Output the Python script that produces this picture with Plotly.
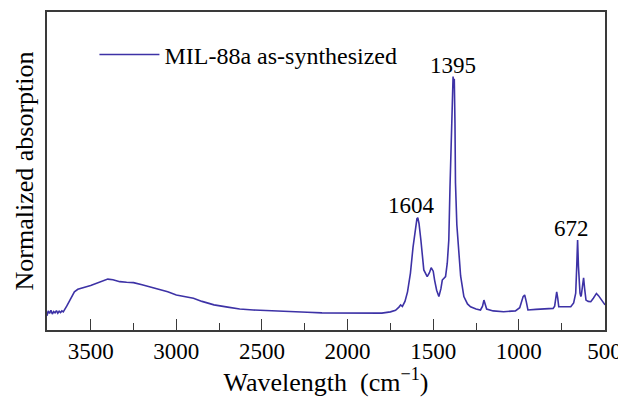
import plotly.graph_objects as go

# ---- data ----
wavenumber = [3755, 3748, 3740, 3732, 3724, 3716, 3708, 3700, 3692, 3684, 3676, 3668, 3660,
              3650, 3640, 3625, 3610, 3595, 3575, 3550, 3520, 3500, 3460, 3430, 3400, 3370,
              3330, 3290, 3250, 3200, 3150, 3110, 3050, 3000, 2950, 2900, 2850, 2780, 2700,
              2630, 2550, 2430, 2300, 2235, 2150, 2040, 1900, 1800, 1750, 1720, 1700, 1690,
              1680, 1665, 1650, 1633, 1618, 1604, 1595, 1590, 1583, 1572, 1555, 1535, 1522,
              1512, 1500, 1492, 1480, 1467, 1455, 1447, 1435, 1428, 1418, 1409, 1402, 1395,
              1389, 1384, 1380, 1377, 1373, 1370, 1362, 1350, 1340, 1321, 1300, 1282, 1250,
              1224, 1212, 1204, 1196, 1188, 1150, 1089, 1020, 995, 975, 966, 957, 947, 900,
              855, 800, 791, 785, 779, 773, 767, 730, 697, 680, 668, 662, 657, 652, 647, 643,
              638, 635, 628, 622, 616, 608, 595, 580, 565, 547, 535, 518, 505, 497]
absorption = [0.045, 0.060, 0.052, 0.062, 0.050, 0.058, 0.054, 0.061, 0.053, 0.059, 0.055, 0.060, 0.057,
              0.065, 0.075, 0.090, 0.107, 0.120, 0.128, 0.133, 0.137, 0.140, 0.148, 0.156, 0.160, 0.158,
              0.152, 0.150, 0.149, 0.142, 0.135, 0.129, 0.120, 0.110, 0.105, 0.100, 0.090, 0.079, 0.072,
              0.066, 0.063, 0.061, 0.059, 0.056, 0.054, 0.053, 0.052, 0.053, 0.057, 0.062, 0.072, 0.079,
              0.074, 0.090, 0.120, 0.179, 0.260, 0.325, 0.350, 0.353, 0.335, 0.283, 0.189, 0.168, 0.180,
              0.196, 0.185, 0.157, 0.125, 0.105, 0.130, 0.157, 0.165, 0.168, 0.210, 0.283, 0.450, 0.597,
              0.720, 0.797, 0.760, 0.790, 0.650, 0.462, 0.330, 0.230, 0.170, 0.105, 0.082, 0.073, 0.066,
              0.063, 0.075, 0.094, 0.075, 0.066, 0.060, 0.0575, 0.060, 0.070, 0.105, 0.110, 0.090, 0.063, 0.065,
              0.066, 0.068, 0.075, 0.105, 0.120, 0.100, 0.073, 0.073, 0.073, 0.085, 0.116, 0.200, 0.283, 0.200, 0.125, 0.116,
              0.105, 0.110, 0.140, 0.164, 0.130, 0.094, 0.090, 0.089, 0.100, 0.115, 0.108, 0.094, 0.085, 0.079]

series_name = "MIL-88a as-synthesized"
peak_labels = ["1604", "1395", "672"]
peak_label_x = [1629, 1387, 691]
peak_label_y = [0.393, 0.833, 0.318]
x_tick_values = [3500, 3000, 2500, 2000, 1500, 1000, 500]

FONT = "Liberation Serif"
LINE_COLOR = "#3d32a6"
FRAME = "#3a3a3a"

fig = go.Figure()
fig.add_trace(go.Scatter(x=wavenumber, y=absorption, mode="lines", name=series_name,
                         line=dict(color=LINE_COLOR, width=1.6)))

for txt, xv, yv in zip(peak_labels, peak_label_x, peak_label_y):
    fig.add_annotation(x=xv, y=yv, xref="x", yref="y", text=txt, showarrow=False,
                       font=dict(family=FONT, size=23, color="black"))

# page body has an 8px margin, so the figure is drawn 8px in from the window corner
fig.update_layout(
    width=618, height=395,
    margin=dict(l=39, r=21, t=4, b=73, autoexpand=False),
    paper_bgcolor="white", plot_bgcolor="white",
    font=dict(family=FONT, color="black"),
    showlegend=True,
    legend=dict(x=0.085, y=0.865, xanchor="left", yanchor="middle",
                bgcolor="rgba(0,0,0,0)", font=dict(family=FONT, size=24, color="black"),
                itemwidth=60),
    xaxis=dict(range=[3755, 497], tickvals=x_tick_values,
               ticktext=[str(v) for v in x_tick_values],
               ticks="inside", ticklen=11, tickwidth=1, tickcolor=FRAME,
               minor=dict(dtick=250, ticks="inside", ticklen=7, tickwidth=1, tickcolor=FRAME),
               showline=True, linecolor=FRAME, linewidth=1.5, mirror=True,
               showgrid=False, zeroline=False, automargin=False,
               tickfont=dict(family=FONT, size=23, color="black"),
               title=dict(text="Wavelength  (cm<sup>\u22121</sup>)", standoff=8,
                          font=dict(family=FONT, size=26, color="black"))),
    yaxis=dict(range=[0, 1], showticklabels=False, ticks="",
               showline=True, linecolor=FRAME, linewidth=1.5, mirror=True,
               showgrid=False, zeroline=False, automargin=False,
               title=dict(text="Normalized absorption", standoff=4,
                          font=dict(family=FONT, size=26, color="black"))),
)

fig.write_html("out.html")
